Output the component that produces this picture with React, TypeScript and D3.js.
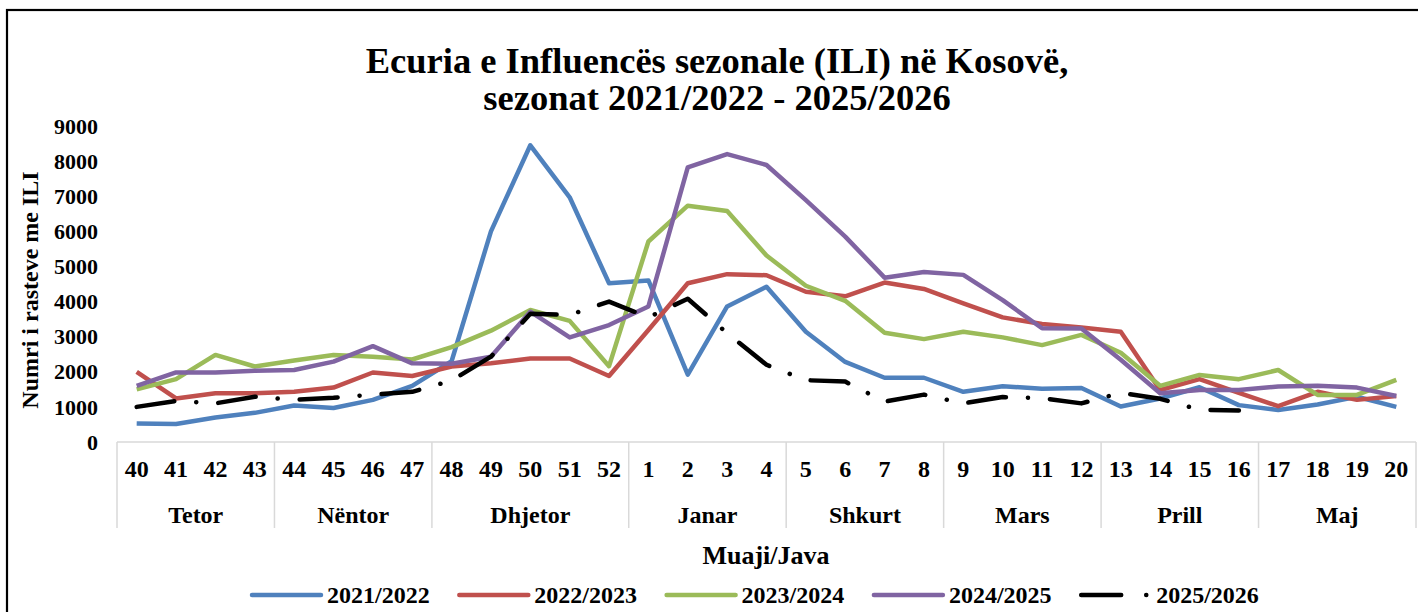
import * as d3 from "d3";

const weeks = ["40", "41", "42", "43", "44", "45", "46", "47", "48", "49", "50", "51", "52", "1", "2", "3", "4", "5", "6", "7", "8", "9", "10", "11", "12", "13", "14", "15", "16", "17", "18", "19", "20"];
const months = ["Tetor", "Nëntor", "Dhjetor", "Janar", "Shkurt", "Mars", "Prill", "Maj"];
const monthWeekCounts = [4, 4, 5, 4, 4, 4, 4, 4];
const yTicks = [0, 1000, 2000, 3000, 4000, 5000, 6000, 7000, 8000, 9000];

const season2122 = [530, 510, 700, 830, 1040, 970, 1200, 1600, 2300, 6000, 8450, 6970, 4520, 4600, 1920, 3860, 4420, 3140, 2280, 1830, 1830, 1430, 1590, 1520, 1540, 1010, 1240, 1560, 1050, 910, 1070, 1290, 1000];
const season2223 = [2000, 1240, 1390, 1390, 1430, 1550, 1980, 1880, 2150, 2240, 2380, 2380, 1880, 3190, 4520, 4780, 4750, 4280, 4150, 4540, 4360, 3950, 3550, 3360, 3260, 3140, 1480, 1790, 1400, 1020, 1430, 1200, 1310];
const season2324 = [1500, 1790, 2480, 2150, 2320, 2480, 2430, 2350, 2700, 3170, 3760, 3450, 2160, 5710, 6730, 6580, 5310, 4450, 4020, 3110, 2930, 3140, 2980, 2760, 3050, 2540, 1600, 1910, 1790, 2050, 1340, 1340, 1770];
const season2425 = [1600, 1980, 1980, 2030, 2050, 2290, 2730, 2240, 2230, 2430, 3710, 2980, 3330, 3860, 7820, 8200, 7890, 6890, 5850, 4680, 4840, 4760, 4040, 3240, 3230, 2340, 1390, 1480, 1480, 1580, 1600, 1550, 1310];
const season2526 = [1000, 1170, 1100, 1290, 1200, 1260, 1350, 1430, 1750, 2430, 3650, 3620, 4000, 3550, 4080, 3100, 2200, 1760, 1720, 1150, 1350, 1100, 1280, 1250, 1100, 1400, 1230, 920, 900, null, null, null, null];

const seasonNames = ["2021/2022", "2022/2023", "2023/2024", "2024/2025", "2025/2026"];
const seasonValues = [season2122, season2223, season2324, season2425, season2526];
const seasonColors = ["#4F81BD", "#C0504D", "#9BBB59", "#8064A2", "#000000"];

const W = 1418;
const H = 612;
const FONT = "'Liberation Serif', 'Times New Roman', serif";
const DASH = "38 22 0.1 22";

export default function App() {
  const x = d3.scaleBand<string>().domain(weeks).range([117, 1416]).paddingInner(0).paddingOuter(0);
  const y = d3.scaleLinear().domain([0, 9000]).range([442, 126]);
  const cx = (w: string) => (x(w) ?? 0) + x.bandwidth() / 2;

  const line = d3
    .line<number | null>()
    .defined((d) => d != null)
    .x((_, i) => cx(weeks[i]))
    .y((d) => y(d as number));

  // month group boundaries
  const bounds: number[] = [0];
  monthWeekCounts.forEach((c) => bounds.push(bounds[bounds.length - 1] + c));
  const edgeX = (i: number) => (i < weeks.length ? x(weeks[i]) ?? 0 : 1416);

  const axisTop = y(0);
  const axisBottom = 528;

  return (
    <svg width={W} height={H} style={{ position: "absolute", left: 0, top: 0, background: "#fff" }} fontFamily={FONT} fontWeight="bold">
      <rect x={7} y={10} width={W} height={H} fill="none" stroke="#000" strokeWidth={2.2} />

      <text x={717} y={73} textAnchor="middle" fontSize={36.5}>
        Ecuria e Influencës sezonale (ILI) në Kosovë,
      </text>
      <text x={717} y={110} textAnchor="middle" fontSize={36.5}>
        sezonat 2021/2022 - 2025/2026
      </text>

      {yTicks.map((t) => (
        <text key={t} x={98} y={y(t)} dy="0.35em" textAnchor="end" fontSize={22}>
          {t}
        </text>
      ))}
      <text transform={`translate(38,290) rotate(-90)`} textAnchor="middle" fontSize={24}>
        Numri i rasteve me ILI
      </text>

      <line x1={117} x2={1416} y1={axisTop} y2={axisTop} stroke="#D9D9D9" strokeWidth={1.5} />
      {bounds.map((b) => (
        <line key={b} x1={edgeX(b)} x2={edgeX(b)} y1={axisTop} y2={axisBottom} stroke="#D9D9D9" strokeWidth={1.5} />
      ))}
      {weeks.map((w) => (
        <text key={w} x={cx(w)} y={477} textAnchor="middle" fontSize={24}>
          {w}
        </text>
      ))}
      {months.map((m, i) => (
        <text key={m} x={(edgeX(bounds[i]) + edgeX(bounds[i + 1])) / 2} y={523} textAnchor="middle" fontSize={24}>
          {m}
        </text>
      ))}
      <text x={766} y={564} textAnchor="middle" fontSize={26}>
        Muaji/Java
      </text>

      {seasonValues.map((vals, i) => (
        <path
          key={seasonNames[i]}
          d={line(vals) ?? ""}
          fill="none"
          stroke={seasonColors[i]}
          strokeWidth={4.5}
          strokeLinejoin="round"
          strokeLinecap={i === 4 ? "round" : "butt"}
          strokeDasharray={i === 4 ? DASH : undefined}
        />
      ))}

      {seasonNames.map((name, i) => {
        const lx = 250 + i * 207.3;
        return (
          <g key={name}>
            <line
              x1={lx + 2}
              x2={lx + 71}
              y1={595}
              y2={595}
              stroke={seasonColors[i]}
              strokeWidth={4.5}
              strokeLinecap="round"
              strokeDasharray={i === 4 ? "40 25 0.1 20" : undefined}
            />
            <text x={lx + 77} y={595} dy="0.35em" fontSize={24}>
              {name}
            </text>
          </g>
        );
      })}
    </svg>
  );
}
